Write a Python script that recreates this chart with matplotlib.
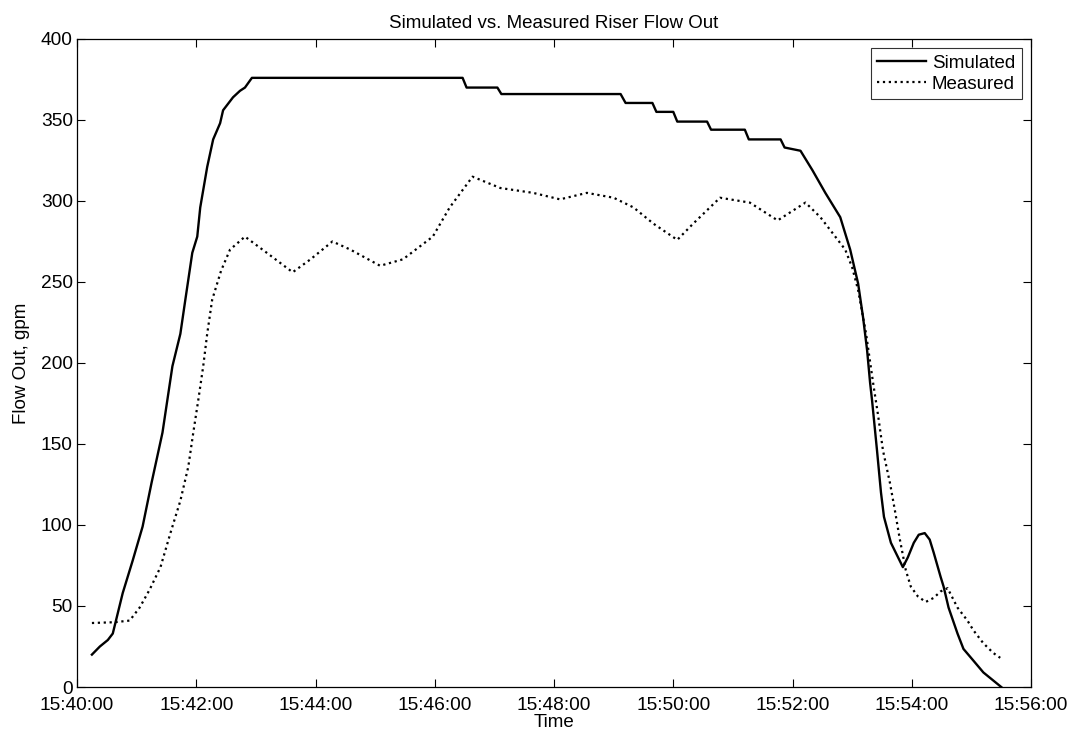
import matplotlib
matplotlib.use("Agg")
import matplotlib.pyplot as plt
import pandas as pd

# ---- data ----
sim_time = ["15:40:15", "15:40:23", "15:40:31", "15:40:36", "15:40:46", "15:40:56",
            "15:41:06", "15:41:15", "15:41:26", "15:41:36", "15:41:44", "15:41:49",
            "15:41:56", "15:42:01", "15:42:04", "15:42:11", "15:42:17", "15:42:24",
            "15:42:27", "15:42:37", "15:42:44", "15:42:49", "15:42:56", "15:46:28",
            "15:46:32", "15:47:03", "15:47:07", "15:49:07", "15:49:12", "15:49:39",
            "15:49:43", "15:50:00", "15:50:04", "15:50:34", "15:50:38", "15:51:12",
            "15:51:16", "15:51:48", "15:51:52", "15:52:08", "15:52:20", "15:52:33",
            "15:52:48", "15:52:58", "15:53:06", "15:53:11", "15:53:15", "15:53:18",
            "15:53:20", "15:53:25", "15:53:29", "15:53:32", "15:53:39", "15:53:51",
            "15:53:56", "15:54:02", "15:54:07", "15:54:13", "15:54:18", "15:54:22",
            "15:54:29", "15:54:32", "15:54:37", "15:54:46", "15:54:52", "15:55:01",
            "15:55:12", "15:55:22", "15:55:30"]
sim_flow = [20, 25, 29, 33, 58, 78,
            99, 126, 157, 198, 218, 239,
            268, 278, 296, 321, 338, 348,
            356, 364, 368, 370, 376, 376,
            370, 370, 366, 366, 360.5, 360.5,
            355, 355, 349, 349, 344, 344,
            338, 338, 333, 331, 319, 305,
            290, 270, 249, 228, 208, 188,
            177, 146, 120, 105, 89, 74,
            80, 89, 94, 95, 91, 83,
            68, 62, 49, 33, 23.5, 17,
            9, 4, 0]

meas_time = ["15:40:15", "15:40:38", "15:40:53", "15:41:03", "15:41:13", "15:41:24",
             "15:41:34", "15:41:44", "15:41:52", "15:41:57", "15:42:02", "15:42:07",
             "15:42:11", "15:42:16", "15:42:25", "15:42:34", "15:42:49", "15:43:11",
             "15:43:37", "15:43:55", "15:44:17", "15:44:35", "15:45:05", "15:45:28",
             "15:45:58", "15:46:15", "15:46:38", "15:47:06", "15:47:39", "15:48:06",
             "15:48:33", "15:49:00", "15:49:20", "15:49:40", "15:50:04", "15:50:20",
             "15:50:47", "15:51:17", "15:51:45", "15:52:13", "15:52:28", "15:52:43",
             "15:52:53", "15:53:00", "15:53:06", "15:53:14", "15:53:21", "15:53:26",
             "15:53:31", "15:53:38", "15:53:43", "15:53:48", "15:53:54", "15:53:59",
             "15:54:06", "15:54:14", "15:54:22", "15:54:29", "15:54:36", "15:54:46",
             "15:54:56", "15:55:02", "15:55:12", "15:55:22", "15:55:29"]
meas_flow = [39.5, 40, 41, 49, 60, 74,
             95, 115, 136, 157, 177, 198,
             218, 239, 257, 270, 278, 268,
             256, 264, 275, 270, 260, 264,
             278, 296, 315, 308, 305, 301,
             305, 302, 296, 286, 276, 286,
             302, 299, 288, 299, 290, 278,
             270, 259, 245, 218, 188, 168,
             146, 126, 109, 91, 72, 62,
             56, 52.5, 55, 59, 61, 49,
             41, 35, 27, 21, 18]

x_ticks = ["15:40:00", "15:42:00", "15:44:00", "15:46:00", "15:48:00",
           "15:50:00", "15:52:00", "15:54:00", "15:56:00"]
y_ticks = [0, 50, 100, 150, 200, 250, 300, 350, 400]


def to_dt(lst):
    return pd.to_datetime(["2000-01-01 " + t for t in lst])


plt.rcParams['font.family'] = ['Liberation Sans', 'DejaVu Sans']

fig = plt.figure(figsize=(10.71, 7.38), dpi=100)
ax = fig.add_axes([0.0719, 0.0691, 0.8908, 0.8781])

ax.plot(to_dt(sim_time), sim_flow, color='black', lw=1.7, ls='-', label='Simulated')
ax.plot(to_dt(meas_time), meas_flow, color='black', lw=1.6, ls=':', label='Measured')

xt = to_dt(x_ticks)
ax.set_xlim(xt[0], xt[-1])
ax.set_ylim(0, 400)
ax.set_xticks(xt)
ax.set_xticklabels(x_ticks)
ax.set_yticks(y_ticks)
ax.tick_params(direction='in', length=6, width=0.8, labelsize=13.8,
               top=True, right=True)
ax.tick_params(axis='x', pad=7)
ax.tick_params(axis='y', pad=3)
for s in ax.spines.values():
    s.set_linewidth(0.9)

ax.set_title('Simulated vs. Measured Riser Flow Out', fontsize=13.5, pad=8)
ax.set_xlabel('Time', fontsize=13.5, labelpad=0)
ax.set_ylabel('Flow Out, gpm', fontsize=13.5, labelpad=8)

leg = ax.legend(loc='upper right', fontsize=13.5, frameon=True, fancybox=False,
                edgecolor='black', borderpad=0.35, handlelength=2.6,
                handletextpad=0.3, labelspacing=0.2, borderaxespad=0.5)
leg.get_frame().set_linewidth(0.8)

fig.savefig('out.png', dpi=100)
